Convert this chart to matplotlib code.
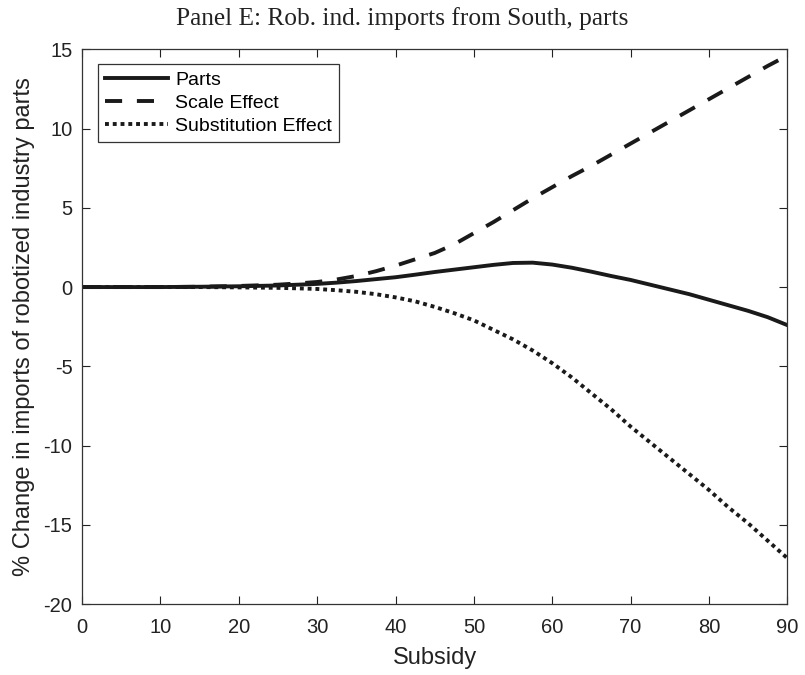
import matplotlib

matplotlib.use("Agg")
import matplotlib.pyplot as plt

# subsidy grid and the three series
subsidy = [0, 5, 10, 15, 20, 25, 27.5, 30, 32.5, 35, 37.5, 40, 42.5, 45, 47.5, 50,
           52.5, 55, 57.5, 60, 62.5, 65, 67.5, 70, 72.5, 75, 77.5, 80, 82.5, 85, 87.5, 90]
parts = [0, 0, 0, 0.02, 0.05, 0.1, 0.15, 0.2, 0.28, 0.38, 0.5, 0.62, 0.78, 0.95, 1.1, 1.25,
         1.4, 1.52, 1.54, 1.42, 1.22, 0.97, 0.7, 0.45, 0.15, -0.15, -0.45, -0.8, -1.15, -1.5, -1.9, -2.4]
scale_effect = [0, 0, 0, 0.02, 0.07, 0.15, 0.23, 0.32, 0.48, 0.7, 1.0, 1.35, 1.75, 2.15, 2.7, 3.4,
                4.1, 4.85, 5.6, 6.3, 7.0, 7.65, 8.35, 9.05, 9.75, 10.45, 11.15, 11.85, 12.55, 13.25, 13.95, 14.6]
subst_effect = [0, 0, 0, 0, -0.02, -0.05, -0.08, -0.12, -0.2, -0.3, -0.45, -0.65, -0.9, -1.25, -1.65, -2.1,
                -2.7, -3.3, -4.0, -4.8, -5.7, -6.7, -7.7, -8.8, -9.8, -10.8, -11.8, -12.8, -13.9, -14.9, -16.0, -17.1]

plt.rcParams["font.family"] = ["Liberation Sans", "DejaVu Sans"]
plt.rcParams["axes.unicode_minus"] = False

fig = plt.figure(figsize=(8.05, 6.75), dpi=100)
ax = fig.add_axes([0.102, 0.105, 0.876, 0.822])

ink = "#1a1a1a"
ax.plot(subsidy, parts, color=ink, lw=2.8, ls="-", label="Parts")
ax.plot(subsidy, scale_effect, color=ink, lw=2.8, ls=(0, (4.4, 3.8)), label="Scale Effect")
ax.plot(subsidy, subst_effect, color=ink, lw=2.8, ls=(0, (1, 1)), label="Substitution Effect")

ax.set_xlim(0, 90)
ax.set_ylim(-20, 15)
ax.set_xticks(range(0, 91, 10))
ax.set_yticks(range(-20, 16, 5))
ax.tick_params(direction="in", top=True, right=True, length=5.5, width=0.8,
               labelsize=14.5, colors="#222222")
ax.tick_params(axis="x", pad=10)
ax.tick_params(axis="y", pad=7)
for sp in ax.spines.values():
    sp.set_color("#333333")
    sp.set_linewidth(0.9)

ax.set_xlabel("Subsidy", fontsize=17, color="#222222", labelpad=7)
ax.set_ylabel("% Change in imports of robotized industry parts", fontsize=17,
              color="#222222", labelpad=6)
fig.text(0.50, 0.99, "Panel E: Rob. ind. imports from South, parts", ha="center", va="top",
         fontsize=18.3, family=["Liberation Serif", "DejaVu Serif"], color="#222222")

leg = ax.legend(loc="upper left", bbox_to_anchor=(0.0227, 0.973), fontsize=14,
                handlelength=3.25, handletextpad=0.36, borderpad=0.35, labelspacing=0.29,
                fancybox=False, framealpha=1, edgecolor="#333333", borderaxespad=0)
leg.get_frame().set_linewidth(0.9)

fig.savefig("out.png", dpi=100)
